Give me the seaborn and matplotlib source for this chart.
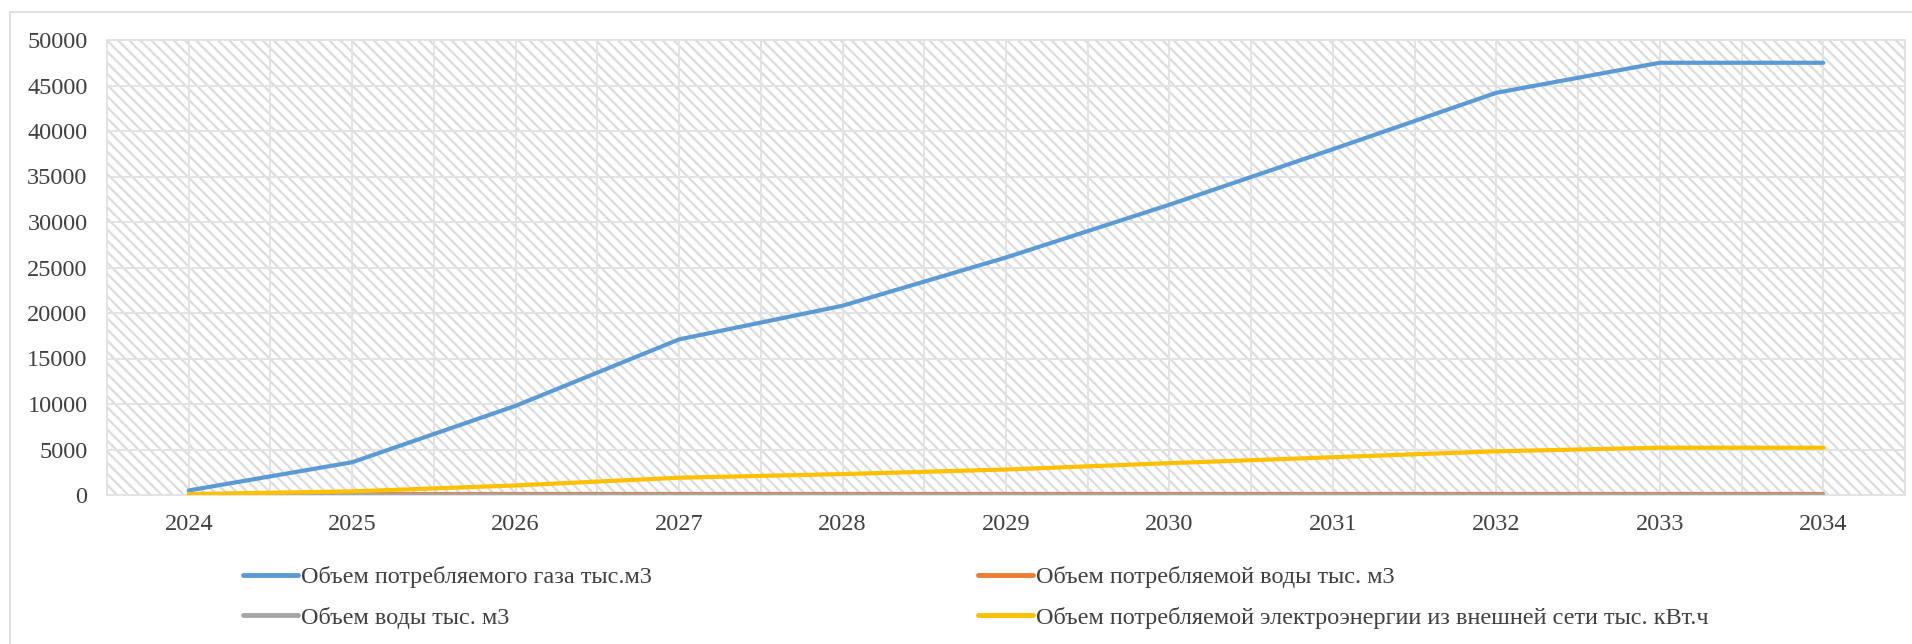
import matplotlib
matplotlib.use("Agg")
import matplotlib.pyplot as plt
import seaborn as sns
import pandas as pd
from matplotlib.patches import Rectangle
from matplotlib.ticker import MultipleLocator

years = [2024, 2025, 2026, 2027, 2028, 2029, 2030, 2031, 2032, 2033, 2034]
gas = [500, 3600, 9800, 17100, 20800, 26100, 31900, 38000, 44200, 47500, 47500]
water_consumed = [90, 90, 90, 90, 90, 90, 90, 90, 90, 90, 90]
water = [40, 40, 40, 40, 40, 40, 40, 40, 40, 40, 40]
electricity = [100, 400, 1050, 1900, 2300, 2800, 3500, 4150, 4800, 5200, 5200]

series_names = [
    "Объем потребляемого газа тыс.м3",
    "Объем потребляемой воды тыс. м3",
    "Объем воды тыс. м3",
    "Объем потребляемой электроэнергии из внешней сети тыс. кВт.ч",
]
series_values = [gas, water_consumed, water, electricity]
palette = ["#5B9BD5", "#ED7D31", "#A5A5A5", "#FFC000"]

df = pd.concat(
    [pd.DataFrame({"Год": years, "Значение": vals, "Показатель": name})
     for name, vals in zip(series_names, series_values)],
    ignore_index=True,
)

sns.set_theme(style="white")
plt.rcParams["font.family"] = ["Liberation Serif", "DejaVu Serif"]
plt.rcParams["hatch.linewidth"] = 1.6

FS = 17.5
fig = plt.figure(figsize=(19.12, 6.44), dpi=100)
ax = fig.add_axes([107 / 1912, 1 - 495 / 644, (1905 - 107) / 1912, (495 - 40) / 644])

# chart-area frame
fig.patches.append(Rectangle((10 / 1912, -0.02), 1.1, 1 - 12 / 644 + 0.02,
                             transform=fig.transFigure, fill=False,
                             edgecolor="#d9d9d9", linewidth=1.2, zorder=0))

# hatched plot background
ax.patch.set_facecolor("white")
ax.add_patch(Rectangle((0, 0), 1, 1, transform=ax.transAxes, facecolor="white",
                       edgecolor="#dcdcdc", hatch="\\\\\\", linewidth=0, zorder=0))

sns.lineplot(data=df, x="Год", y="Значение", hue="Показатель", hue_order=series_names,
             palette=palette, linewidth=3.0, ax=ax, legend=False, zorder=3)

ax.set_xlim(2023.5, 2034.5)
ax.set_ylim(0, 50000)
ax.set_xticks(years)
ax.set_xticklabels([str(y) for y in years])
ax.xaxis.set_minor_locator(MultipleLocator(0.5))
ax.yaxis.set_major_locator(MultipleLocator(5000))
ax.grid(True, which="major", axis="both", color="#e3e3e3", linewidth=1.4, zorder=1)
ax.grid(True, which="minor", axis="x", color="#e3e3e3", linewidth=1.4, zorder=1)
ax.set_axisbelow(True)
ax.set_xlabel("")
ax.set_ylabel("")
ax.tick_params(axis="both", which="both", length=0, labelsize=FS, colors="#404040")
ax.tick_params(axis="x", pad=14)
ax.tick_params(axis="y", pad=14)
for sp in ax.spines.values():
    sp.set_color("#e3e3e3")
    sp.set_linewidth(1.4)

# legend: two columns, column-major order
handles = [plt.Line2D([], [], color=c, linewidth=3.5, solid_capstyle="round") for c in palette]
order = [0, 2, 1, 3]
leg = fig.legend([handles[i] for i in order], [series_names[i] for i in order],
                 ncol=2, loc="upper left", bbox_to_anchor=(243 / 1912, 1 - 566 / 644),
                 frameon=False, fontsize=FS, handlelength=2.25, handletextpad=0.15,
                 columnspacing=13.4, labelspacing=0.78, borderaxespad=0, borderpad=0)
for t in leg.get_texts():
    t.set_color("#404040")

fig.savefig("out.png", dpi=100)
